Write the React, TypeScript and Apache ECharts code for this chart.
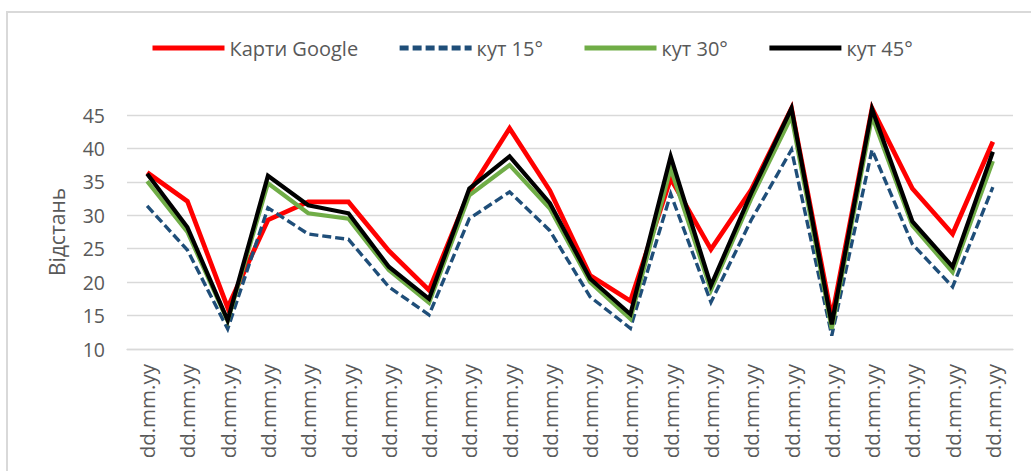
import React, { useEffect, useRef } from "react";
import * as echarts from "echarts";

const categories: string[] = Array.from({ length: 22 }, () => "dd.mm.yy");
const seriesNames = ["Карти Google", "кут 15°", "кут 30°", "кут 45°"];
const googleMaps = [36.4, 32.1, 16.2, 29.3, 32, 32, 24.7, 18.8, 33.5, 43, 33.7, 21, 17.2, 35.5, 24.9, 33.8, 46, 14.7, 46, 34, 27.2, 41];
const angle15 = [31.4, 24.8, 13, 31.1, 27.2, 26.4, 19.3, 15.1, 29.5, 33.5, 27.7, 17.8, 13.1, 33.2, 17, 29.3, 39.8, 12, 39.8, 25.7, 19.3, 34.2];
const angle30 = [35.1, 27.5, 14.2, 34.8, 30.3, 29.5, 21.8, 16.9, 33, 37.5, 31, 20, 14.5, 37, 18.8, 32.5, 44.8, 13, 44.8, 28.5, 21.5, 38.1];
const angle45 = [36.2, 28.2, 14.3, 35.9, 31.5, 30.3, 22.3, 17.5, 34, 38.8, 31.8, 20.5, 15.2, 38.8, 19.5, 33.3, 46, 13.7, 45.9, 29.1, 22.3, 39.5];
const yMin = 10;
const yMax = 45;
const yStep = 5;

const FONT = "'Open Sans', sans-serif";

export default function App() {
  const ref = useRef<HTMLDivElement>(null);
  useEffect(() => {
    if (!ref.current) return;
    const chart = echarts.init(ref.current, undefined, { renderer: "svg" });
    const mk = (name: string, data: number[], color: string, width: number, type: any) => ({
      name,
      type: "line",
      data,
      symbol: "none",
      showSymbol: false,
      clip: false,
      lineStyle: { color, width, type, cap: "butt", join: "miter" },
      itemStyle: { color },
    });
    chart.setOption({
      animation: false,
      backgroundColor: "#ffffff",
      textStyle: { fontFamily: FONT },
      graphic: [
        {
          type: "rect",
          shape: { x: 7, y: 12, width: 1100, height: 600 },
          style: { fill: "none", stroke: "#d9d9d9", lineWidth: 2 },
          silent: true,
        },
      ],
      legend: {
        left: 150,
        top: 38,
        padding: 0,
        itemWidth: 72,
        itemHeight: 14,
        itemGap: 39,
        itemStyle: { opacity: 0 },
        lineStyle: { width: 5 },
        textStyle: { fontSize: 20, color: "#595959", fontFamily: FONT },
        data: seriesNames,
      },
      grid: { left: 127, right: 18, top: 115, bottom: 122, containLabel: false },
      xAxis: {
        type: "category",
        data: categories,
        boundaryGap: true,
        axisLine: { show: true, lineStyle: { color: "#d9d9d9", width: 1.3 } },
        axisTick: { show: false },
        axisLabel: { rotate: 90, margin: 15, fontSize: 20.5, color: "#595959", fontFamily: FONT, interval: 0 },
      },
      yAxis: {
        type: "value",
        min: yMin,
        max: yMax,
        interval: yStep,
        name: "Відстань",
        nameLocation: "middle",
        nameGap: 60,
        nameRotate: 90,
        nameTextStyle: { fontSize: 21, color: "#595959", fontFamily: FONT },
        axisLine: { show: false },
        axisTick: { show: false },
        axisLabel: { margin: 22, fontSize: 19.5, color: "#595959", fontFamily: FONT },
        splitLine: { lineStyle: { color: "#d9d9d9", width: 1.3 } },
      },
      series: [
        mk(seriesNames[0], googleMaps, "#ff0000", 4.7, "solid"),
        mk(seriesNames[1], angle15, "#1f4e79", 3.4, [9, 4]),
        mk(seriesNames[2], angle30, "#70ad47", 4.2, "solid"),
        mk(seriesNames[3], angle45, "#000000", 4.2, "solid"),
      ],
    });
    return () => chart.dispose();
  }, []);
  return <div ref={ref} style={{ position: "fixed", left: 0, top: 0, width: 1031, height: 471 }} />;
}
